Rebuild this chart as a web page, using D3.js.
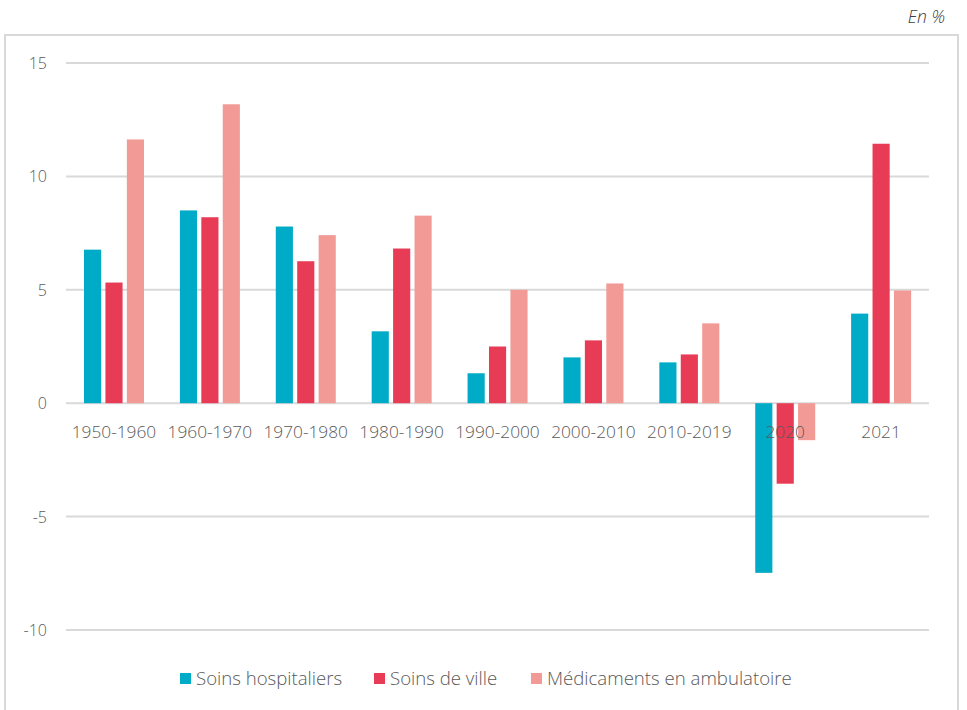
<!DOCTYPE html>
<html>
<head>
<meta charset="utf-8">
<script src="https://cdn.jsdelivr.net/npm/d3@7"></script>
<style>
  body { margin: 0; background: #fff; }
  svg { font-family: "Open Sans", sans-serif; font-weight: 300; }
</style>
</head>
<body>
<div id="chart"></div>
<script>
// periods on the x axis
const categories = ["1950-1960", "1960-1970", "1970-1980", "1980-1990", "1990-2000",
                    "2000-2010", "2010-2019", "2020", "2021"];
const seriesNames = ["Soins hospitaliers", "Soins de ville", "Médicaments en ambulatoire"];
// growth rates, %
const hospitaliers = [6.77, 8.5, 7.79, 3.17, 1.32, 2.02, 1.8, -7.48, 3.95];
const ville        = [5.32, 8.2, 6.26, 6.82, 2.5, 2.77, 2.15, -3.55, 11.44];
const medicaments  = [11.63, 13.18, 7.41, 8.27, 5.0, 5.28, 3.52, -1.63, 4.97];
const yTicks = [-10, -5, 0, 5, 10, 15];
const colors = ["#00abc8", "#e83c56", "#f29b96"];

const width = 967, height = 710;
const svg = d3.select("#chart").append("svg")
    .attr("width", width)
    .attr("height", height);

// frame
svg.append("rect")
    .attr("x", 5).attr("y", 35)
    .attr("width", 953).attr("height", 700)
    .attr("fill", "none")
    .attr("stroke", "#d9d9d9")
    .attr("stroke-width", 2);

svg.append("text")
    .attr("x", 945).attr("y", 23)
    .attr("text-anchor", "end")
    .attr("font-style", "italic")
    .attr("font-size", 17.5)
    .attr("fill", "#404040")
    .text("En %");

const x = d3.scaleBand().domain(categories).range([66, 929]).paddingInner(0).paddingOuter(0);
const x1 = d3.scaleBand().domain(seriesNames).range([18, 78]).paddingInner(0.2);
const y = d3.scaleLinear().domain([-10, 15]).range([630, 63]);

// gridlines
svg.append("g")
    .selectAll("line")
    .data(yTicks)
    .enter().append("line")
    .attr("x1", 66).attr("x2", 929)
    .attr("y1", d => y(d)).attr("y2", d => y(d))
    .attr("stroke", "#d9d9d9")
    .attr("stroke-width", 2);

// y labels
svg.append("g")
    .selectAll("text")
    .data(yTicks)
    .enter().append("text")
    .attr("x", 47)
    .attr("y", d => y(d) + 6)
    .attr("text-anchor", "end")
    .attr("font-size", 16)
    .attr("fill", "#595959")
    .text(d => d);

const allSeries = [hospitaliers, ville, medicaments];
const data = categories.map((c, i) => ({
    cat: c,
    vals: seriesNames.map((s, j) => ({ name: s, v: allSeries[j][i], color: colors[j] }))
}));

const group = svg.append("g")
    .selectAll("g")
    .data(data)
    .enter().append("g")
    .attr("transform", d => `translate(${x(d.cat)},0)`);

group.selectAll("rect")
    .data(d => d.vals)
    .enter().append("rect")
    .attr("x", d => x1(d.name))
    .attr("width", x1.bandwidth())
    .attr("y", d => y(Math.max(0, d.v)))
    .attr("height", d => Math.abs(y(d.v) - y(0)))
    .attr("fill", d => d.color);

// x labels
svg.append("g")
    .selectAll("text")
    .data(categories)
    .enter().append("text")
    .attr("x", d => x(d) + x.bandwidth() / 2)
    .attr("y", 438)
    .attr("text-anchor", "middle")
    .attr("font-size", 17.3)
    .attr("fill", "#595959")
    .text(d => d);

// legend
const legendX = [180, 374, 531];
const legend = svg.append("g")
    .selectAll("g")
    .data(seriesNames)
    .enter().append("g")
    .attr("transform", (d, i) => `translate(${legendX[i]},673)`);
legend.append("rect")
    .attr("width", 11).attr("height", 11)
    .attr("fill", (d, i) => colors[i]);
legend.append("text")
    .attr("x", 16).attr("y", 12)
    .attr("font-size", 18.6)
    .attr("fill", "#595959")
    .text(d => d);
</script>
</body>
</html>
